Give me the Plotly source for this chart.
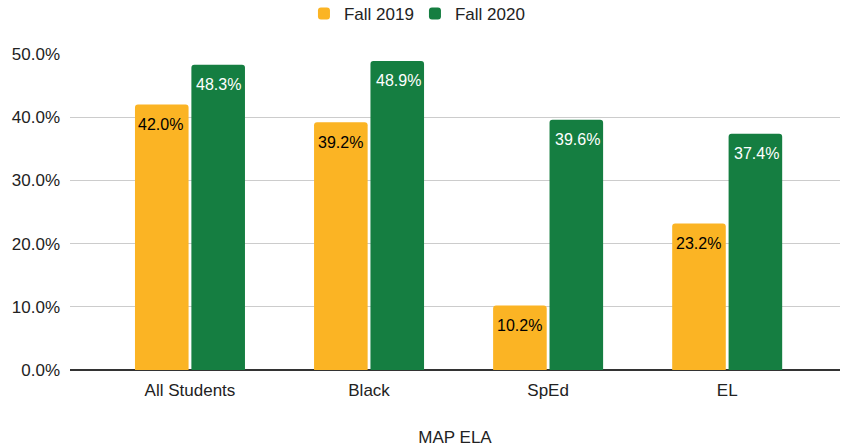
import plotly.graph_objects as go

categories = ["All Students", "Black", "SpEd", "EL"]
fall_2019 = [42.0, 39.2, 10.2, 23.2]
fall_2020 = [48.3, 48.9, 39.6, 37.4]
tick_vals = [0, 10, 20, 30, 40, 50]
tick_text = ["0.0%", "10.0%", "20.0%", "30.0%", "40.0%", "50.0%"]

font_family = "Liberation Sans, Arial, sans-serif"
colors = {"Fall 2019": "#FBB424", "Fall 2020": "#157E41"}
label_colors = {"Fall 2019": "#000000", "Fall 2020": "#FFFFFF"}
series = {"Fall 2019": fall_2019, "Fall 2020": fall_2020}

fig = go.Figure()
for name, vals in series.items():
    fig.add_trace(go.Bar(
        name=name, x=categories, y=vals,
        marker=dict(color=colors[name], line=dict(width=0)),
    ))

# value labels, placed just below the top of each bar
shifts = {"Fall 2019": -29, "Fall 2020": 29}
for name, vals in series.items():
    for cat, v in zip(categories, vals):
        fig.add_annotation(
            x=cat, y=v, xref="x", yref="y", text=f"{v:.1f}%",
            showarrow=False, xshift=shifts[name], yshift=-20, yanchor="middle",
            font=dict(size=16, color=label_colors[name], family=font_family),
        )

fig.update_layout(
    width=842, height=447,
    margin=dict(l=70, r=2, t=54, b=77, autoexpand=False),
    paper_bgcolor="white", plot_bgcolor="white",
    barmode="group", bargap=0.37, bargroupgap=0.05,
    barcornerradius=3,
    font=dict(family=font_family, size=17, color="#222222"),
    legend=dict(orientation="h", x=0.448, xanchor="center", y=1.127,
                yanchor="middle", font=dict(size=17, color="#222222"),
                traceorder="normal", entrywidth=66),
    xaxis=dict(
        range=[-0.67, 3.63], automargin=False,
        title=dict(text="MAP ELA", font=dict(size=17, color="#222222"), standoff=40),
        showgrid=False, ticks="", tickfont=dict(size=17, color="#222222"),
        ticklabelstandoff=8,
        showline=False, zeroline=False,
    ),
    yaxis=dict(
        range=[0, 50], automargin=False,
        tickvals=tick_vals, ticktext=tick_text,
        showgrid=True, gridcolor="#CCCCCC", gridwidth=1,
        zeroline=True, zerolinecolor="#333333", zerolinewidth=1.5,
        tickfont=dict(size=17, color="#222222"), ticks="",
        ticklabelstandoff=9,
    ),
)

fig.write_html("out.html", config={"displayModeBar": False},
               post_script="document.body.style.margin='0';")
